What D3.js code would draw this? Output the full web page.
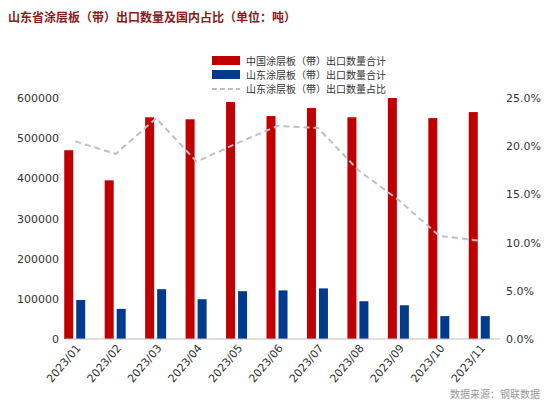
<!DOCTYPE html><html><head><meta charset="utf-8"><script src="https://cdn.jsdelivr.net/npm/d3@7"></script>
<style>body{margin:0;background:#fff}svg{font-family:"Noto Sans CJK SC","DejaVu Sans",sans-serif}</style></head><body>
<svg id="c" width="554" height="408"></svg>
<script>
const categories=["2023/01","2023/02","2023/03","2023/04","2023/05","2023/06","2023/07","2023/08","2023/09","2023/10","2023/11"];
const chinaExport=[470000,395000,552000,547000,590000,555000,575000,552000,600000,550000,565000];
const shandongExport=[97000,75000,124000,99000,119000,121000,126000,94000,84000,57000,57000];
const sharePct=[20.5,19.2,22.9,18.4,20.3,22.1,21.9,17.5,14.4,10.7,10.2];
const leftTicks=[0,100000,200000,300000,400000,500000,600000];
const rightTicks=[0,5,10,15,20,25];
const svg=d3.select("#c");
const L=55,R=500,T=98,B=339;
const x=d3.scaleBand().domain(categories).range([L,R]).paddingInner(0);
const y=d3.scaleLinear().domain([0,600000]).range([B,T]);
const y2=d3.scaleLinear().domain([0,25]).range([B,T]);
svg.append("text").attr("x",8).attr("y",22).attr("font-size",12).attr("font-weight","bold").attr("fill","#8b1a1a").text("山东省涂层板（带）出口数量及国内占比（单位：吨）");
const bw=9;
const cx=d=>x(d)+x.bandwidth()/2;
const g=svg.append("g");
g.selectAll(".r").data(categories).join("rect").attr("x",d=>cx(d)-11).attr("y",(d,i)=>y(chinaExport[i])).attr("width",bw).attr("height",(d,i)=>B-y(chinaExport[i])).attr("fill","#c00000");
g.selectAll(".b").data(categories).join("rect").attr("x",d=>cx(d)+1).attr("y",(d,i)=>y(shandongExport[i])).attr("width",bw).attr("height",(d,i)=>B-y(shandongExport[i])).attr("fill","#003a8c");
svg.append("path").datum(sharePct).attr("fill","none").attr("stroke","#bfbfbf").attr("stroke-width",2).attr("stroke-dasharray","6,4")
 .attr("d",d3.line().x((d,i)=>cx(categories[i])).y(d=>y2(d)));
svg.append("line").attr("x1",65).attr("x2",R).attr("y1",B).attr("y2",B).attr("stroke","#bfbfbf");
const ya=svg.append("g").attr("transform",`translate(65,0)`).call(d3.axisLeft(y).tickValues(leftTicks).tickFormat(d3.format("d")).tickSize(0).tickPadding(6));
const yb=svg.append("g").attr("transform",`translate(${R},0)`).call(d3.axisRight(y2).tickValues(rightTicks).tickFormat(d=>d.toFixed(1)+"%").tickSize(0).tickPadding(6));
[ya,yb].forEach(a=>{a.select(".domain").remove();a.selectAll("text").attr("font-size",11).attr("fill","#333").attr("font-family","DejaVu Sans, sans-serif");});
const xa=svg.append("g").attr("transform",`translate(0,${B})`).call(d3.axisBottom(x).tickSize(0).tickPadding(4));
xa.select(".domain").remove();
xa.selectAll("text").attr("font-size",11).attr("fill","#333").attr("font-family","DejaVu Sans, sans-serif").attr("text-anchor","end").attr("transform","rotate(-50)").attr("dx","-0.3em").attr("dy","0.6em");
const leg=[["中国涂层板（带）出口数量合计","rect","#c00000"],["山东涂层板（带）出口数量合计","rect","#003a8c"],["山东涂层板（带）出口数量占比","line","#bfbfbf"]];
leg.forEach((l,i)=>{const yy=61+i*14;
 if(l[1]=="rect")svg.append("rect").attr("x",212).attr("y",yy-5).attr("width",28).attr("height",9).attr("fill",l[2]);
 else svg.append("line").attr("x1",212).attr("x2",240).attr("y1",yy).attr("y2",yy).attr("stroke",l[2]).attr("stroke-width",2).attr("stroke-dasharray","5,3");
 svg.append("text").attr("x",246).attr("y",yy+4).attr("font-size",10).attr("fill","#333").text(l[0]);});
svg.append("text").attr("x",540).attr("y",398).attr("text-anchor","end").attr("font-size",10).attr("fill","#999").text("数据来源：钢联数据");
</script></body></html>
